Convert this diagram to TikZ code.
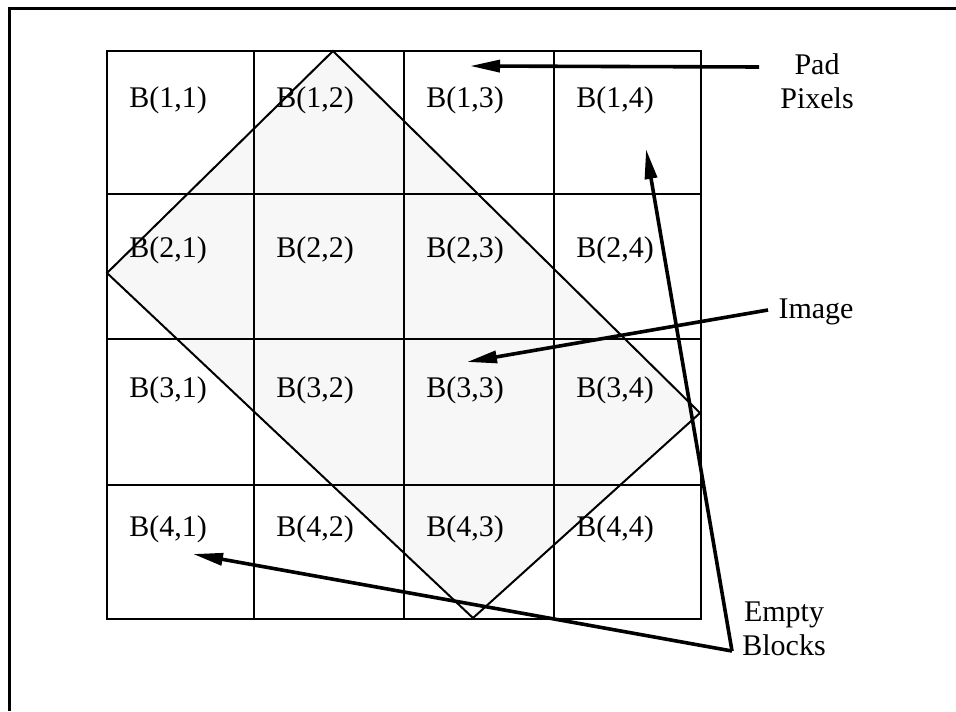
\documentclass[tikz,border=0pt]{standalone}
\usepackage{fontspec}
\setmainfont{Liberation Serif}
\usetikzlibrary{arrows.meta}
\begin{document}
\begin{tikzpicture}[x=0.5pt,y=-0.5pt]
    \tikzstyle{every node}=[font=\fontsize{15pt}{17pt}\selectfont]
    \tikzstyle{gridline}=[draw=black,line width=1.3pt]
    \tikzstyle{pointer}=[line width=1.8pt,-{Triangle[length=15pt,width=6pt]}]
    \useasboundingbox (0,0) rectangle (956,711);
    % frame
    \draw[line width=1.5pt] (9,711) -- (9,9) -- (956,9);
    % rotated image
    \fill[fill=black!3] (333,51) -- (700,413) -- (473,618) -- (107,273) -- cycle;
    \draw[line width=1pt] (333,51) -- (700,413) -- (473,618) -- (107,273) -- cycle;
    % blocks
    \draw[gridline] (107,51) rectangle (701,619);
    \foreach \x in {254,404,554} \draw[gridline] (\x,51) -- (\x,619);
    \foreach \y in {194,339,485} \draw[gridline] (107,\y) -- (701,\y);
    \foreach \r/\y in {1/100,2/250,3/390,4/529}
      \foreach \c/\x in {1/168,2/315,3/465,4/615}
        \node (b\r\c) at (\x,\y) {B(\r,\c)};

    % labels
    \node[align=center] (pad) at (817,81) {Pad\\Pixels};
    \node (image) at (816,312) {Image};
    \node[align=center] (empty) at (784,629) {Empty\\Blocks};

    % pointers
    \coordinate (padtail) at (759,67);
    \coordinate (padtip) at (470,66);
    \coordinate (imagetail) at (768,310);
    \coordinate (imagetip) at (467,362);
    \coordinate (emptytail) at (732,651);
    \coordinate (emptytipa) at (646,149);
    \coordinate (emptytipb) at (193,554);
    \draw[pointer] (padtail) -- (padtip);
    \draw[pointer] (imagetail) -- (imagetip);
    \draw[pointer] (emptytail) -- (emptytipa);
    \draw[pointer] (emptytail) -- (emptytipb);
\end{tikzpicture}
\end{document}
